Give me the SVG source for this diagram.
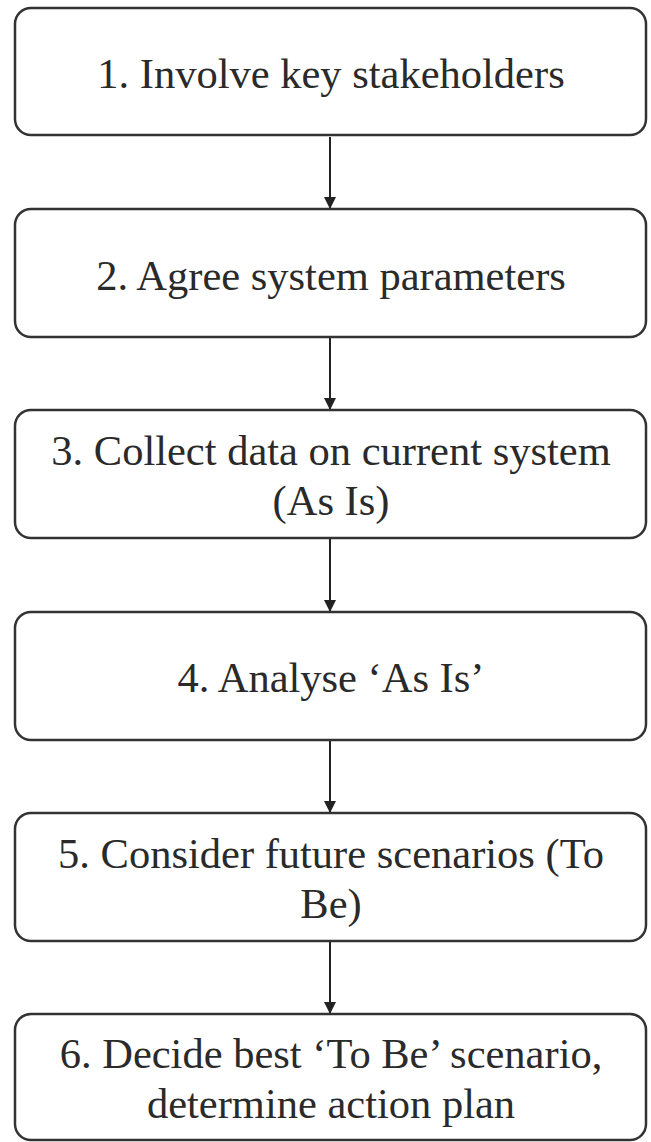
<svg xmlns="http://www.w3.org/2000/svg" width="651" height="1142" viewBox="0 0 651 1142">
<style>
.box{fill:#fff;stroke:#333;stroke-width:2.5}
.t{font-family:"Liberation Serif","Times New Roman",serif;font-size:42.5px;fill:#2a2a2a;text-anchor:middle}
.c{stroke:#222;stroke-width:2;fill:none}
</style>
<defs>
<marker id="ah" markerWidth="12" markerHeight="12" refX="11" refY="6" orient="auto" markerUnits="userSpaceOnUse" viewBox="0 0 12 12">
<path d="M0,0 L12,6 L0,12 Z" fill="#222"/>
</marker>
</defs>
<rect width="651" height="1142" fill="#fff"/>
<g id="connectors">
<line class="c" x1="330" y1="137" x2="330" y2="208" marker-end="url(#ah)"/>
<line class="c" x1="330" y1="338" x2="330" y2="409" marker-end="url(#ah)"/>
<line class="c" x1="330" y1="539" x2="330" y2="611" marker-end="url(#ah)"/>
<line class="c" x1="330" y1="741" x2="330" y2="812" marker-end="url(#ah)"/>
<line class="c" x1="330" y1="942" x2="330" y2="1013" marker-end="url(#ah)"/>
</g>
<g id="n1"><rect class="box" x="15" y="8" width="631" height="127" rx="16"/><text class="t" x="331" y="88">1. Involve key stakeholders</text></g>
<g id="n2"><rect class="box" x="15" y="209" width="631" height="128" rx="16"/><text class="t" x="331" y="290">2. Agree system parameters</text></g>
<g id="n3"><rect class="box" x="15" y="410" width="631" height="128" rx="16"/><text class="t" x="331" y="465">3. Collect data on current system</text><text class="t" x="331" y="515">(As Is)</text></g>
<g id="n4"><rect class="box" x="15" y="612" width="631" height="128" rx="16"/><text class="t" x="331" y="692">4. Analyse ‘As Is’</text></g>
<g id="n5"><rect class="box" x="15" y="813" width="631" height="128" rx="16"/><text class="t" x="331" y="868">5. Consider future scenarios (To</text><text class="t" x="331" y="918">Be)</text></g>
<g id="n6"><rect class="box" x="15" y="1014" width="631" height="126" rx="16"/><text class="t" x="331" y="1068">6. Decide best ‘To Be’ scenario,</text><text class="t" x="331" y="1118">determine action plan</text></g>
</svg>
